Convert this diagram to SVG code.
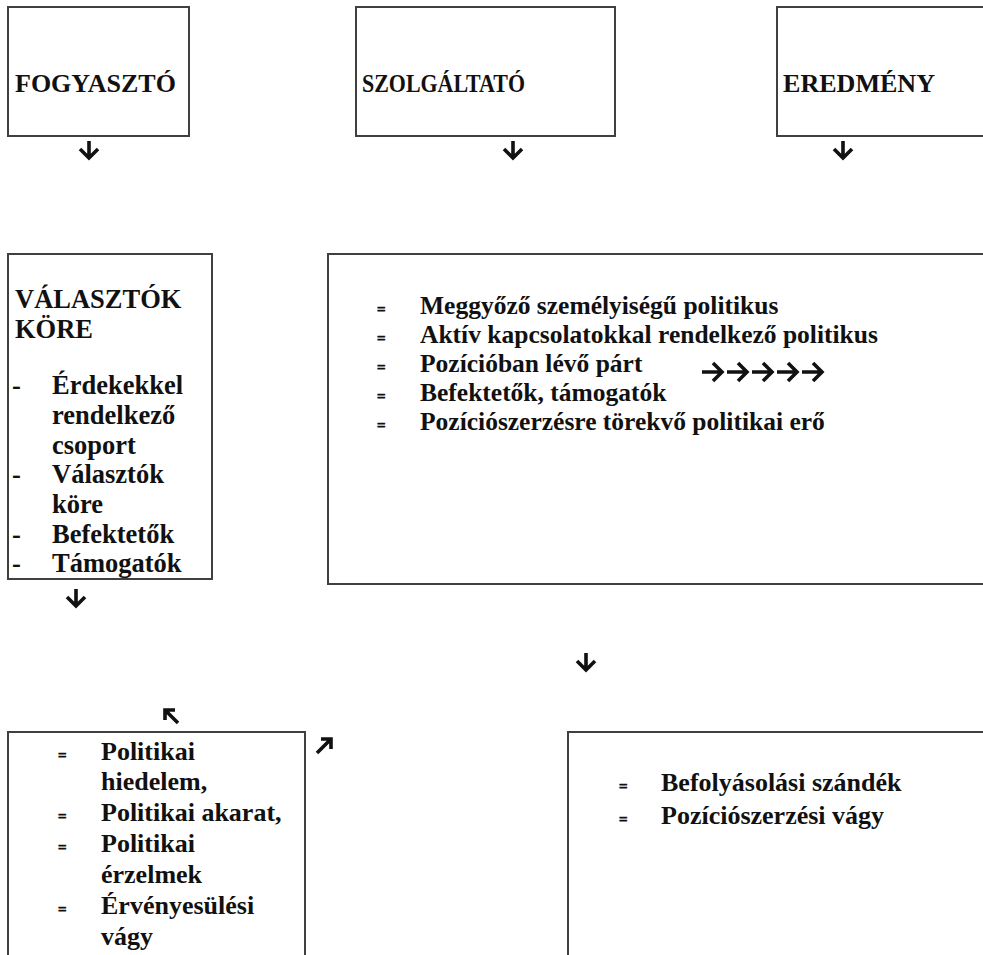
<svg xmlns="http://www.w3.org/2000/svg" width="983" height="955" viewBox="0 0 983 955">
<style>
.box{fill:#fff;stroke:#404040;stroke-width:2}
.t{font-family:"Liberation Serif","Times New Roman",serif;font-weight:bold;font-size:25.5px;fill:#111}
.h{font-size:26px}
.v{font-size:26.5px}
.w{font-size:26px}
.b{font-family:"Liberation Serif","Times New Roman",serif;font-weight:bold;font-size:15px;fill:#111;stroke:#111;stroke-width:0.7}
.arr{fill:none;stroke:#111;stroke-width:3.6;stroke-linecap:butt;stroke-linejoin:miter}
</style>
<rect width="983" height="955" fill="#fff"/>
<g id="fogyaszto">
<rect class="box" x="8" y="7" width="181" height="129"/>
<text class="t h" x="15" y="92">FOGYASZTÓ</text>
</g>
<g id="szolgaltato">
<rect class="box" x="356" y="7" width="259" height="129"/>
<text class="t h" x="362" y="92" textLength="163" lengthAdjust="spacingAndGlyphs">SZOLGÁLTATÓ</text>
</g>
<g id="eredmeny">
<rect class="box" x="777" y="7" width="230" height="129"/>
<text class="t h" x="783" y="92" textLength="152" lengthAdjust="spacingAndGlyphs">EREDMÉNY</text>
</g>
<g id="valasztok">
<rect class="box" x="8" y="254" width="204" height="325"/>
<text class="t v" x="15" y="308">VÁLASZTÓK</text>
<text class="t v" x="15" y="338">KÖRE</text>
<text class="t v" x="12" y="394">-</text>
<text class="t v" x="52" y="394">Érdekekkel</text>
<text class="t v" x="52" y="424">rendelkező</text>
<text class="t v" x="52" y="454">csoport</text>
<text class="t v" x="12" y="483">-</text>
<text class="t v" x="52" y="483">Választók</text>
<text class="t v" x="52" y="513">köre</text>
<text class="t v" x="12" y="543">-</text>
<text class="t v" x="52" y="543">Befektetők</text>
<text class="t v" x="12" y="572">-</text>
<text class="t v" x="52" y="572">Támogatók</text>
</g>
<g id="szereplok">
<rect class="box" x="328" y="254" width="680" height="330"/>
<text class="b" x="377" y="314">=</text>
<text class="t" x="420" y="314">Meggyőző személyiségű politikus</text>
<text class="b" x="377" y="343">=</text>
<text class="t" x="420" y="343">Aktív kapcsolatokkal rendelkező politikus</text>
<text class="b" x="377" y="372">=</text>
<text class="t" x="420" y="372">Pozícióban lévő párt</text>
<text class="b" x="377" y="401">=</text>
<text class="t" x="420" y="401">Befektetők, támogatók</text>
<text class="b" x="377" y="430">=</text>
<text class="t" x="420" y="430">Pozíciószerzésre törekvő politikai erő</text>
</g>
<g id="hiedelem">
<rect class="box" x="8" y="732" width="297" height="260"/>
<text class="b" x="58" y="760">=</text>
<text class="t w" x="101" y="760">Politikai</text>
<text class="t w" x="101" y="790">hiedelem,</text>
<text class="b" x="58" y="821">=</text>
<text class="t w" x="101" y="821">Politikai akarat,</text>
<text class="b" x="58" y="852">=</text>
<text class="t w" x="101" y="852">Politikai</text>
<text class="t w" x="101" y="883">érzelmek</text>
<text class="b" x="58" y="914">=</text>
<text class="t w" x="101" y="914">Érvényesülési</text>
<text class="t w" x="101" y="945">vágy</text>
</g>
<g id="szandek">
<rect class="box" x="568" y="732" width="440" height="260"/>
<text class="b" x="619" y="791">=</text>
<text class="t w" x="661" y="791">Befolyásolási szándék</text>
<text class="b" x="619" y="824">=</text>
<text class="t w" x="661" y="824">Pozíciószerzési vágy</text>
</g>
<g id="connectors">
<path class="arr" d="M89 141V158M80 149L89 158L98 149"/>
<path class="arr" d="M513 141V158M504 149L513 158L522 149"/>
<path class="arr" d="M843 141V158M834 149L843 158L852 149"/>
<path class="arr" d="M76 589V606M67 597L76 606L85 597"/>
<path class="arr" d="M586 653V670M577 661L586 670L595 661"/>
<path class="arr" d="M702 372H722M713 363L722 372L713 381"/>
<path class="arr" d="M727 372H747M738 363L747 372L738 381"/>
<path class="arr" d="M752 372H772M763 363L772 372L763 381"/>
<path class="arr" d="M777 372H797M788 363L797 372L788 381"/>
<path class="arr" d="M802 372H822M813 363L822 372L813 381"/>
<path class="arr" d="M178 723L165 710M165 720V710H175"/>
<path class="arr" d="M317 753L331 739M321 739H331V749"/>
</g>
</svg>
